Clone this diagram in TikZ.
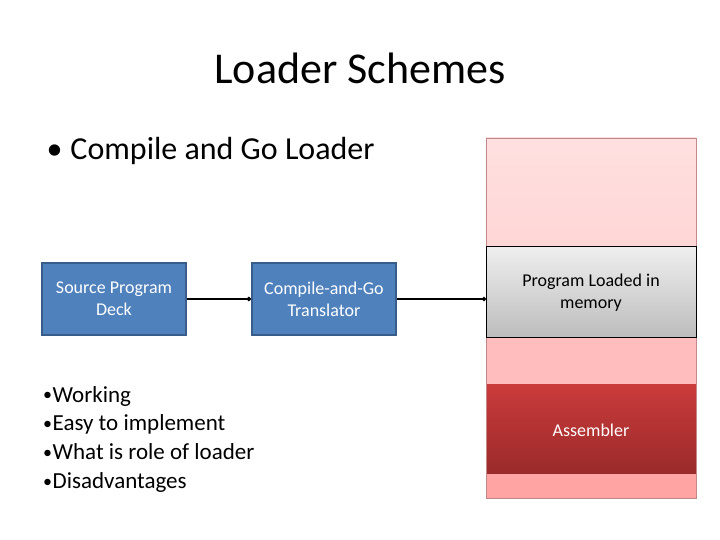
\documentclass[tikz,border=0pt]{standalone}
\usepackage{fontspec}
\setmainfont{Carlito}
\usetikzlibrary{arrows.meta}
\definecolor{boxblue}{HTML}{4F81BD}
\definecolor{boxedge}{HTML}{385D8A}
\definecolor{memedge}{HTML}{C08888}
\definecolor{pinkA}{HTML}{FFE0E0}
\definecolor{pinkB}{HTML}{FFD6D6}
\definecolor{pinkC}{HTML}{FFBDBD}
\definecolor{pinkD}{HTML}{FFA3A3}
\definecolor{redtop}{HTML}{CB3B3B}
\definecolor{redbot}{HTML}{9A2A2A}
\definecolor{graytop}{HTML}{EFEFEF}
\definecolor{graybot}{HTML}{BDBDBD}
\newcommand{\blt}{\makebox[9.5pt][l]{\raisebox{1.2pt}{\fontsize{18}{18}\selectfont •}}}
\tikzset{
  bluebox/.style={draw=boxedge, line width=2.2pt, fill=boxblue, text=white,
    minimum width=144pt, minimum height=72pt, inner sep=0pt, align=center,
    font=\fontsize{18}{22}\selectfont},
  conn/.style={draw=black, line width=2pt, -{Circle[length=4pt]}},
  memtext/.style={align=center, font=\fontsize{18}{22}\selectfont}
}
\begin{document}
\begin{tikzpicture}[x=1pt,y=-1pt]
\useasboundingbox (0,0) rectangle (720,540);
\fill[white] (0,0) rectangle (720,540);
% title
\node[font=\fontsize{44}{50}\selectfont] (title) at (360,68) {Loader Schemes};
\node[anchor=west, font=\fontsize{32}{38}\selectfont] (sub) at (43,151) {•\hspace{8pt}Compile and Go Loader};
% memory column
\shade[top color=pinkA, bottom color=pinkB] (486,138) rectangle (696,246);
\fill[pinkC] (486,337) rectangle (696,384);
\shade[top color=redtop, bottom color=redbot] (486,384) rectangle (696,474);
\fill[pinkD] (486,474) rectangle (696,498);
\draw[memedge, line width=0.8pt] (486,138) rectangle (696,498);
\shade[top color=graytop, bottom color=graybot] (486,246) rectangle (696,337);
\draw[black, line width=0.8pt] (486,246) rectangle (696,337);
\coordinate (memin) at (486,299);
\node[memtext] (prog) at (591,293) {Program Loaded in\\memory};
\node[memtext, text=white] (asm) at (591,430) {Assembler};
% boxes
\node[bluebox] (src) at (114,299) {Source Program\\Deck};
\node[bluebox] (cag) at (324,299) {Compile-and-Go\\Translator};
\draw[conn] (src.east) -- (cag.west);
\draw[conn] (cag.east) -- (memin);
% bullets
\node[anchor=north west, align=left, inner sep=0pt, font=\fontsize{23}{28.7}\selectfont] (bul) at (43,386)
  {\blt Working\\\blt Easy to implement\\\blt What is role of loader\\\blt Disadvantages};
\end{tikzpicture}
\end{document}
